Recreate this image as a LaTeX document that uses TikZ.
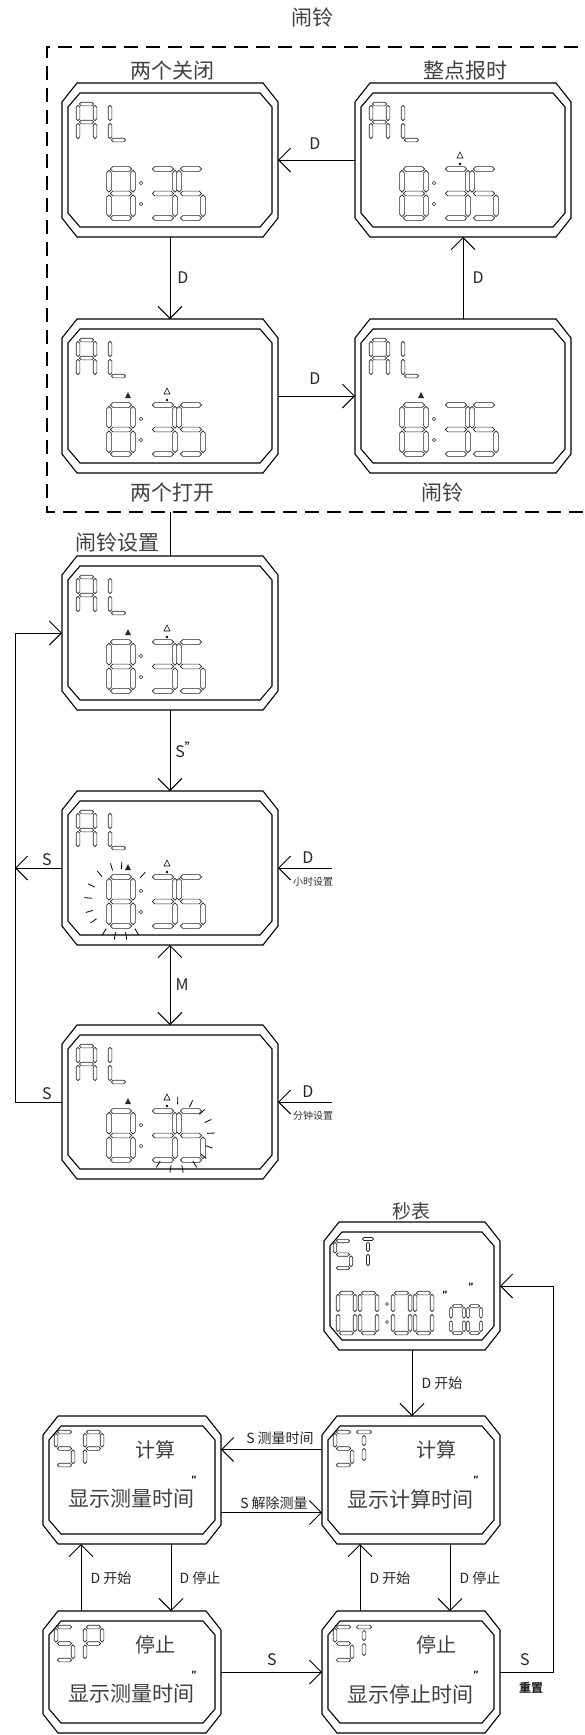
\documentclass[tikz,border=0pt]{standalone}
\usepackage{fontspec}
\setmainfont{Noto Sans CJK SC}
\usetikzlibrary{arrows.meta,calc}

\tikzset{
 wframe/.style={line width=1.1pt, line join=miter},
 wn/.style={inner sep=0pt, outer sep=0pt},
 arr/.style={line width=0.9pt, -{Straight Barb[length=12pt,width=24pt]}},
 darr/.style={line width=0.9pt, {Straight Barb[length=12pt,width=24pt]}-{Straight Barb[length=12pt,width=24pt]}},
 plainline/.style={line width=0.9pt},
 dashbox/.style={line width=1.2pt, dash pattern=on 14pt off 8pt},
 lbl/.style={font=\fontsize{16}{16}\selectfont, text=black!85, inner sep=0pt},
 captxt/.style={font=\fontsize{21}{21}\selectfont, text=black!75, inner sep=0pt},
 slbl/.style={font=\fontsize{14}{14}\selectfont, text=black!85, inner sep=0pt},
 tinylbl/.style={font=\fontsize{10}{10}\selectfont, text=black!80, inner sep=0pt},
 lcdw/.style={font=\fontsize{20}{20}\selectfont, text=black!75, inner sep=0pt},
 lcdl/.style={font=\fontsize{21}{21}\selectfont, text=black!75, inner sep=0pt},
 mk/.style={font=\fontsize{8}{8}\selectfont\bfseries, inner sep=0pt},
 rayline/.style={line width=0.8pt, line cap=round},
 segshape/.style={line width=0.6pt, draw=black!85, fill=white, line join=miter},
}

% hexagonal LCD segments
\newcommand\hseg[3]{\draw[segshape] ({#1},{#3}) -- ({#1+\th},{#3-\th}) -- ({#2-\th},{#3-\th}) -- ({#2},{#3}) -- ({#2-\th},{#3+\th}) -- ({#1+\th},{#3+\th}) -- cycle;}
\newcommand\vseg[3]{\draw[segshape] ({#1},{#2}) -- ({#1+\th},{#2+\th}) -- ({#1+\th},{#3-\th}) -- ({#1},{#3}) -- ({#1-\th},{#3-\th}) -- ({#1-\th},{#2+\th}) -- cycle;}
\def\sga{\hseg{\dg}{\dw-\dg}{0}}
\def\sgb{\vseg{\dw}{\dg}{\dh/2-\dg}}
\def\sgc{\vseg{\dw}{\dh/2+\dg}{\dh-\dg}}
\def\sgd{\hseg{\dg}{\dw-\dg}{\dh}}
\def\sge{\vseg{0}{\dh/2+\dg}{\dh-\dg}}
\def\sgf{\vseg{0}{\dg}{\dh/2-\dg}}
\def\sgg{\hseg{\dg}{\dw-\dg}{\dh/2}}
\def\sgh{\vseg{\dw/2}{\th+1.5}{\dh/2-\dg}}
\def\sgi{\vseg{\dw/2}{\dh/2+\dg}{\dh-\dg}}

\newcommand\Dig[5]{%
 \begin{scope}[shift={(#1,#2)}]
 \def\dw{#3}\def\dh{#4}%
 \pgfmathsetmacro\th{min(2.4,0.1*#3+0.1)}%
 \def\dg{1.4}%
 \foreach \s in {#5}{\csname sg\s\endcsname}%
 \end{scope}}

\newcommand\frameW[1]{%
 \draw[wframe] ([shift={(0,19)}]#1.north west) -- ([shift={(15,0)}]#1.north west)
  -- ([shift={(-15,0)}]#1.north east) -- ([shift={(0,19)}]#1.north east)
  -- ([shift={(0,-19)}]#1.south east) -- ([shift={(-15,0)}]#1.south east)
  -- ([shift={(15,0)}]#1.south west) -- ([shift={(0,-19)}]#1.south west) -- cycle;
 \draw[wframe] ([shift={(6,24)}]#1.north west) -- ([shift={(18,10)}]#1.north west)
  -- ([shift={(-18,10)}]#1.north east) -- ([shift={(-6,24)}]#1.north east)
  -- ([shift={(-6,-24)}]#1.south east) -- ([shift={(-18,-10)}]#1.south east)
  -- ([shift={(18,-10)}]#1.south west) -- ([shift={(6,-24)}]#1.south west) -- cycle;}

\newcommand\ALface[1]{%
 \begin{scope}[shift={(#1.north west)}]
  \Dig{16}{21}{17}{36}{a,b,c,e,f,g}
  \Dig{48}{21}{17}{36}{f,e,d}
  \Dig{47}{86}{24}{49}{a,b,c,d,e,f,g}
  \Dig{89}{86}{24}{49}{a,b,c,d,g}
  \Dig{117}{86}{24}{49}{a,c,d,f,g}
  \draw[black!80, fill=white, line width=0.6pt] (79,100) circle[radius=1.8pt] (79,121) circle[radius=1.8pt];
 \end{scope}}
\newcommand\icAlarm[1]{\fill[black!85] ([shift={(66,73)}]#1.north west) -- ++(3,6) -- ++(-6,0) -- cycle;}
\newcommand\icChime[1]{\draw[line width=0.6pt] ([shift={(105,69)}]#1.north west) -- ++(3,6) -- ++(-6,0) -- cycle;
 \fill ([shift={(105,81)}]#1.north west) circle[radius=1.3pt];}

\newcommand\SPface[3]{%
 \begin{scope}[shift={(#1.north west)}]
  \Dig{13}{16}{17}{33}{a,c,d,f,g}
  \Dig{42}{16}{17}{33}{a,b,e,f,g}
  \node[lcdw] at (112,34) {#2};
  \node[lcdl] at (88,83) {#3};
  \node[mk] at (151,63) {″};
 \end{scope}}
\newcommand\STface[3]{%
 \begin{scope}[shift={(#1.north west)}]
  \Dig{13}{16}{17}{33}{a,c,d,f,g}
  \Dig{33}{16}{18}{30}{a,h,i}
  \node[lcdw] at (114,34) {#2};
  \node[lcdl] at (88,83) {#3};
  \node[mk] at (154,63) {″};
 \end{scope}}

\newcommand\rays[5]{%
 \foreach \a in {#5}{\draw[rayline] ({#1+#3*cos(\a)},{#2-#4*sin(\a)}) -- ({#1+(#3+7)*cos(\a)},{#2-(#4+7)*sin(\a)});}}

\begin{document}
\begin{tikzpicture}[x=1pt,y=-1pt]
\useasboundingbox (0,0) rectangle (585,1735);
\fill[white] (0,0) rectangle (585,1735);

% ---------------- alarm modes ----------------
\node[captxt] (t0) at (312,18) {闹铃};
\draw[dashbox] (600,47) -- (47,47) -- (47,512) -- (600,512);

\node[wn, minimum width=216pt, minimum height=154pt] (w1) at (170,160) {};
\node[wn, minimum width=216pt, minimum height=154pt] (w2) at (463,160) {};
\node[wn, minimum width=216pt, minimum height=154pt] (w3) at (170,396) {};
\node[wn, minimum width=216pt, minimum height=154pt] (w4) at (463,396) {};
\foreach \n in {w1,w2,w3,w4}{\frameW{\n}\ALface{\n}}
\icChime{w2}
\icAlarm{w3}\icChime{w3}
\icAlarm{w4}

\node[captxt] (c1) at (172,71) {两个关闭};
\node[captxt] (c2) at (465,71) {整点报时};
\node[captxt] (c3) at (172,493) {两个打开};
\node[captxt] (c4) at (442,493) {闹铃};

\draw[arr] (w2.west) -- (w1.east);
\node[lbl] (d1) at (315,144) {D};
\draw[arr] (w1.south) -- (w3.north);
\node[lbl] (d2) at (183,278) {D};
\draw[arr] (w3.east) -- (w4.west);
\node[lbl] (d3) at (315,379) {D};
\draw[arr] (w4.north) -- (w2.south);
\node[lbl] (d4) at (478,278) {D};

% ---------------- alarm setting ----------------
\node[captxt] (c5) at (117,543) {闹铃设置};
\node[wn, minimum width=216pt, minimum height=154pt] (w5) at (170,633) {};
\node[wn, minimum width=216pt, minimum height=154pt] (w6) at (170,868) {};
\node[wn, minimum width=216pt, minimum height=154pt] (w7) at (170,1102) {};
\foreach \n in {w5,w6,w7}{\frameW{\n}\ALface{\n}\icAlarm{\n}\icChime{\n}}
\rays{120.5}{901}{29}{32}{47,88,106,130,154,175,197,214,240,260,280,300}
\rays{176.5}{1135}{31}{31}{88,65,42,24,3,340,322,302,280,260,238}

\coordinate (db) at (170,512);
\coordinate (L) at (15,0);
\coordinate (dh) at (332,868);
\coordinate (dm) at (332,1102);
\draw[plainline] (db) -- (w5.north);
\draw[arr] (w5.south) -- (w6.north);
\node[lbl] (s1) at (186,750) {S\textsuperscript{\textbf{"}}};
\draw[arr] (w6.west) -- (w6.west -| L);
\node[lbl] (s2) at (47,860) {S};
\draw[arr] (dh) -- (w6.east);
\node[lbl] (d5) at (308,858) {D};
\node[tinylbl] (h1) at (313,882) {小时设置};
\draw[darr] (w6.south) -- (w7.north);
\node[lbl] (m1) at (182,985) {M};
\draw[arr] (w7.west) -| (L |- w5.west) -- (w5.west);
\node[lbl] (s3) at (47,1094) {S};
\draw[arr] (dm) -- (w7.east);
\node[lbl] (d6) at (308,1092) {D};
\node[tinylbl] (h2) at (313,1116) {分钟设置};

% ---------------- stopwatch ----------------
\node[captxt, font=\fontsize{19}{19}\selectfont] (c6) at (411,1211) {秒表};
\node[wn, minimum width=176pt, minimum height=128pt] (st0) at (412,1286) {};
\node[wn, minimum width=178pt, minimum height=128pt] (sp1) at (132,1480) {};
\node[wn, minimum width=178pt, minimum height=128pt] (st1) at (411,1480) {};
\node[wn, minimum width=178pt, minimum height=122pt] (sp2) at (132,1672) {};
\node[wn, minimum width=178pt, minimum height=122pt] (st2) at (411,1672) {};
\foreach \n in {st0,sp1,st1,sp2,st2}{\frameW{\n}}

\begin{scope}[shift={(st0.north west)}]
 \Dig{11}{19}{16}{27}{a,c,d,f,g}
 \Dig{37}{17}{14}{28}{a,h,i}
 \foreach \x in {14,36,69,91}{\Dig{\x}{71}{17}{40}{a,b,c,d,e,f}}
 \draw[black!80, fill=white, line width=0.6pt] (63,82) circle[radius=1.5pt] (63,100) circle[radius=1.5pt];
 \node[mk] at (121,72) {″};
 \Dig{127}{84}{13}{27}{a,b,c,d,e,f}
 \Dig{144}{84}{13}{27}{a,b,c,d,e,f}
 \node[mk] at (147,64) {″};
\end{scope}
\SPface{sp1}{计算}{显示测量时间}
\STface{st1}{计算}{显示计算时间}
\SPface{sp2}{停止}{显示测量时间}
\STface{st2}{停止}{显示停止时间}

\coordinate (R) at (553,0);
\draw[arr] (st0.south) -- (st0.south |- st1.north);
\node[slbl] (e1) at (442,1383) {D 开始};
\draw[arr] ([yshift=30.5pt]st1.west) -- ([yshift=30.5pt]sp1.east);
\node[slbl] (e2) at (280,1438) {S 测量时间};
\draw[arr] ([yshift=-32.5pt]sp1.east) -- ([yshift=-32.5pt]st1.west);
\node[slbl] (e3) at (274,1503) {S 解除测量};
\draw[arr] ([xshift=-51pt]sp2.north) -- ([xshift=-51pt]sp1.south);
\node[slbl] (e4) at (111,1578) {D 开始};
\draw[arr] ([xshift=39pt]sp1.south) -- ([xshift=39pt]sp2.north);
\node[slbl] (e5) at (200,1578) {D 停止};
\draw[arr] ([xshift=-51pt]st2.north) -- ([xshift=-51pt]st1.south);
\node[slbl] (e6) at (390,1578) {D 开始};
\draw[arr] ([xshift=39pt]st1.south) -- ([xshift=39pt]st2.north);
\node[slbl] (e7) at (480,1578) {D 停止};
\draw[arr] (sp2.east) -- (st2.west);
\node[lbl] (e8) at (272,1660) {S};
\draw[arr] (st2.east) -| (R |- st0.east) -- (st0.east);
\node[lbl] (e9) at (525,1660) {S};
\node[slbl, font=\fontsize{12}{12}\selectfont\bfseries] (e10) at (531,1688) {重置};
\end{tikzpicture}
\end{document}
